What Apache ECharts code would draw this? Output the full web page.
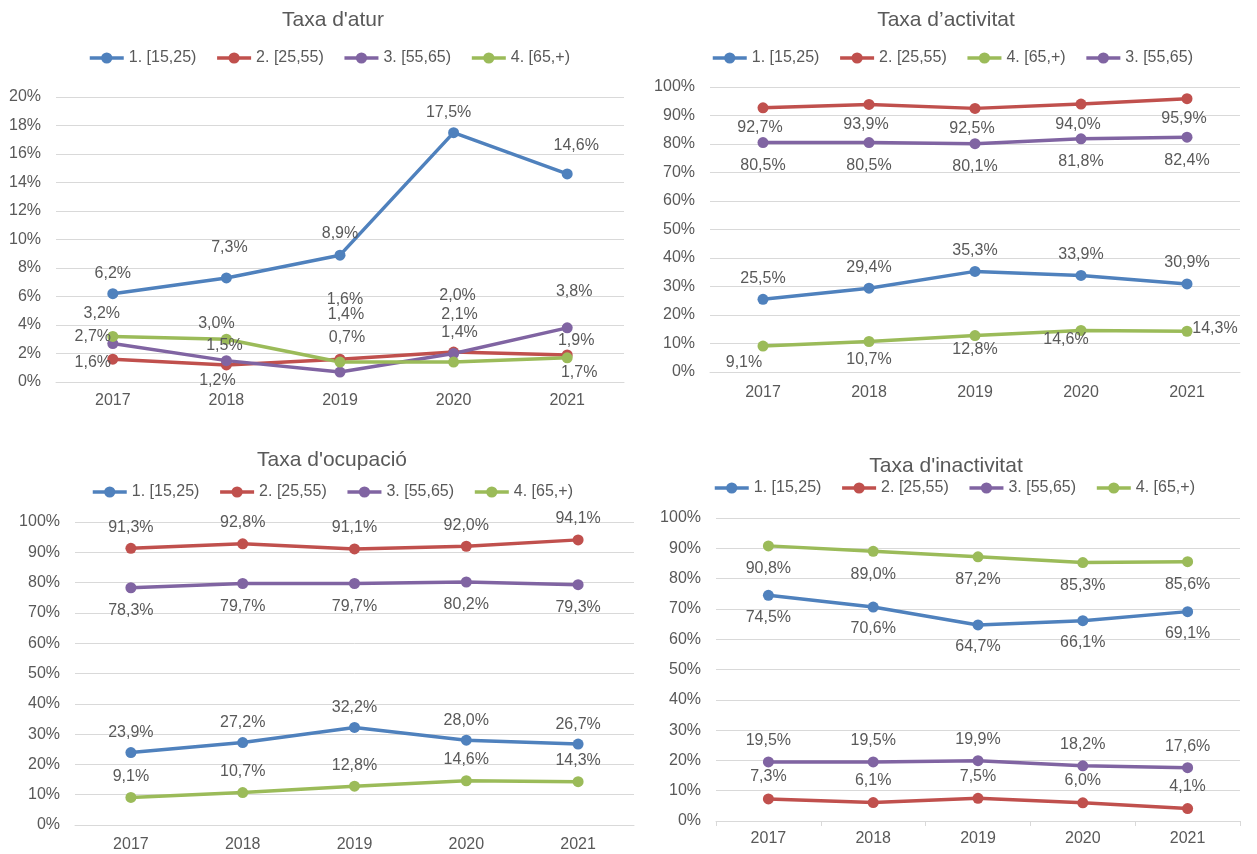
<!DOCTYPE html>
<html>
<head>
<meta charset="utf-8">
<script src="https://cdn.jsdelivr.net/npm/echarts@6/dist/echarts.min.js"></script>
<style>
  html, body { margin: 0; padding: 0; background: #fff; }
  #chart { width: 1257px; height: 854px; }
</style>
</head>
<body>
<div id="chart"></div>
<script>
// anys i grups d'edat
const years = ["2017", "2018", "2019", "2020", "2021"];
const grups = ["1. [15,25)", "2. [25,55)", "3. [55,65)", "4. [65,+)"];
const colors = ["#4f81bd", "#c0504d", "#8064a2", "#9bbb59"];

// Taxa d'atur
const aturJove = [6.2, 7.3, 8.9, 17.5, 14.6];
const aturAdult = [1.6, 1.2, 1.6, 2.1, 1.9];
const aturSenior = [2.7, 1.5, 0.7, 2.0, 3.8];
const aturGran = [3.2, 3.0, 1.4, 1.4, 1.7];

// Taxa d'activitat
const actJove = [25.5, 29.4, 35.3, 33.9, 30.9];
const actAdult = [92.7, 93.9, 92.5, 94.0, 95.9];
const actSenior = [80.5, 80.5, 80.1, 81.8, 82.4];
const actGran = [9.1, 10.7, 12.8, 14.6, 14.3];

// Taxa d'ocupacio
const ocuJove = [23.9, 27.2, 32.2, 28.0, 26.7];
const ocuAdult = [91.3, 92.8, 91.1, 92.0, 94.1];
const ocuSenior = [78.3, 79.7, 79.7, 80.2, 79.3];
const ocuGran = [9.1, 10.7, 12.8, 14.6, 14.3];

// Taxa d'inactivitat
const inaJove = [74.5, 70.6, 64.7, 66.1, 69.1];
const inaAdult = [7.3, 6.1, 7.5, 6.0, 4.1];
const inaSenior = [19.5, 19.5, 19.9, 18.2, 17.6];
const inaGran = [90.8, 89.0, 87.2, 85.3, 85.6];

// eix y: [max, interval]
const yAtur = [20, 2];
const yPct = [100, 10];

// desplaçament de les etiquetes (dx, dy) respecte del punt
const offAturJove = [[0, -20], [3, -30], [0, -22], [-5, -20], [9, -28]];
const offAturAdult = [[-20, 3], [-9, 16], [5, -60], [6, -37], [9, -14]];
const offAturSenior = [[-20, -7], [-2, -15], [7, -34], [4, -58], [7, -36]];
const offAturGran = [[-11, -23], [-10, -16], [6, -47], [6, -29], [12, 15]];
const offActGran = [[-19, 17], [0, 18], [0, 14], [-15, 9], [28, -3]];

const TXT = "#595959";
const GRID = "#d9d9d9";
const FS = 16;

function pct(v) {
  return v.toFixed(1).replace(".", ",") + "%";
}

function serie(name, color, idx, values, offs) {
  return {
    name: name,
    type: "line",
    xAxisIndex: idx,
    yAxisIndex: idx,
    symbol: "circle",
    symbolSize: 11,
    color: color,
    lineStyle: { width: 3.5, color: color },
    itemStyle: { color: color },
    label: {
      show: true,
      position: "inside",
      color: TXT,
      fontSize: FS,
      formatter: p => pct(p.value)
    },
    data: values.map((v, i) => {
      const o = Array.isArray(offs[0]) ? offs[i] : offs;
      return { value: v, label: { offset: o } };
    })
  };
}

const grids = [
  { left: 56, top: 97, width: 568, height: 285 },
  { left: 710, top: 87, width: 530, height: 285 },
  { left: 75, top: 522, width: 559, height: 303 },
  { left: 716, top: 518, width: 524, height: 303 }
];
const labelMargin = [11, 13, 12, 10];
const yRanges = [yAtur, yPct, yPct, yPct];

const titles = [
  { text: "Taxa d'atur", left: 333, top: 10 },
  { text: "Taxa d\u2019activitat", left: 946, top: 10 },
  { text: "Taxa d'ocupació", left: 332, top: 450 },
  { text: "Taxa d'inactivitat", left: 946, top: 456 }
];

const legends = [
  { left: 88, top: 50, data: [grups[0], grups[1], grups[2], grups[3]] },
  { left: 711, top: 50, data: [grups[0], grups[1], grups[3], grups[2]] },
  { left: 91, top: 484, data: [grups[0], grups[1], grups[2], grups[3]] },
  { left: 713, top: 480, data: [grups[0], grups[1], grups[2], grups[3]] }
];

const series = [
  serie(grups[0], colors[0], 0, aturJove, offAturJove),
  serie(grups[1], colors[1], 0, aturAdult, offAturAdult),
  serie(grups[2], colors[2], 0, aturSenior, offAturSenior),
  serie(grups[3], colors[3], 0, aturGran, offAturGran),

  serie(grups[0], colors[0], 1, actJove, [0, -21]),
  serie(grups[1], colors[1], 1, actAdult, [-3, 20]),
  serie(grups[3], colors[3], 1, actGran, offActGran),
  serie(grups[2], colors[2], 1, actSenior, [0, 23]),

  serie(grups[0], colors[0], 2, ocuJove, [0, -20]),
  serie(grups[1], colors[1], 2, ocuAdult, [0, -21]),
  serie(grups[2], colors[2], 2, ocuSenior, [0, 23]),
  serie(grups[3], colors[3], 2, ocuGran, [0, -21]),

  serie(grups[0], colors[0], 3, inaJove, [0, 22]),
  serie(grups[1], colors[1], 3, inaAdult, [0, -22]),
  serie(grups[2], colors[2], 3, inaSenior, [0, -21]),
  serie(grups[3], colors[3], 3, inaGran, [0, 23])
];

const option = {
  animation: false,
  backgroundColor: "#ffffff",
  textStyle: { fontFamily: "Liberation Sans, Arial, sans-serif" },
  title: titles.map(t => ({
    text: t.text,
    left: t.left,
    top: t.top,
    textAlign: "center",
    padding: 0,
    textStyle: { color: TXT, fontSize: 21, fontWeight: "normal" }
  })),
  legend: legends.map(l => ({
    left: l.left,
    top: l.top,
    data: l.data,
    padding: 0,
    itemWidth: 34,
    itemHeight: 14,
    itemGap: 19,
    selectedMode: false,
    lineStyle: { width: 3.5 },
    textStyle: { color: TXT, fontSize: FS }
  })),
  grid: grids,
  xAxis: grids.map((g, i) => ({
    type: "category",
    gridIndex: i,
    data: years,
    boundaryGap: true,
    axisLine: { lineStyle: { color: GRID, width: 1 } },
    axisTick: { show: i === 3, length: 5, lineStyle: { color: GRID } },
    axisLabel: { color: TXT, fontSize: FS, margin: labelMargin[i] }
  })),
  yAxis: grids.map((g, i) => ({
    type: "value",
    gridIndex: i,
    min: 0,
    max: yRanges[i][0],
    interval: yRanges[i][1],
    axisLine: { show: false },
    axisTick: { show: false },
    splitLine: { lineStyle: { color: GRID, width: 1 } },
    axisLabel: { color: TXT, fontSize: FS, margin: 15, formatter: "{value}%" }
  })),
  series: series
};

const myChart = echarts.init(document.getElementById("chart"));
myChart.setOption(option);
</script>
</body>
</html>
